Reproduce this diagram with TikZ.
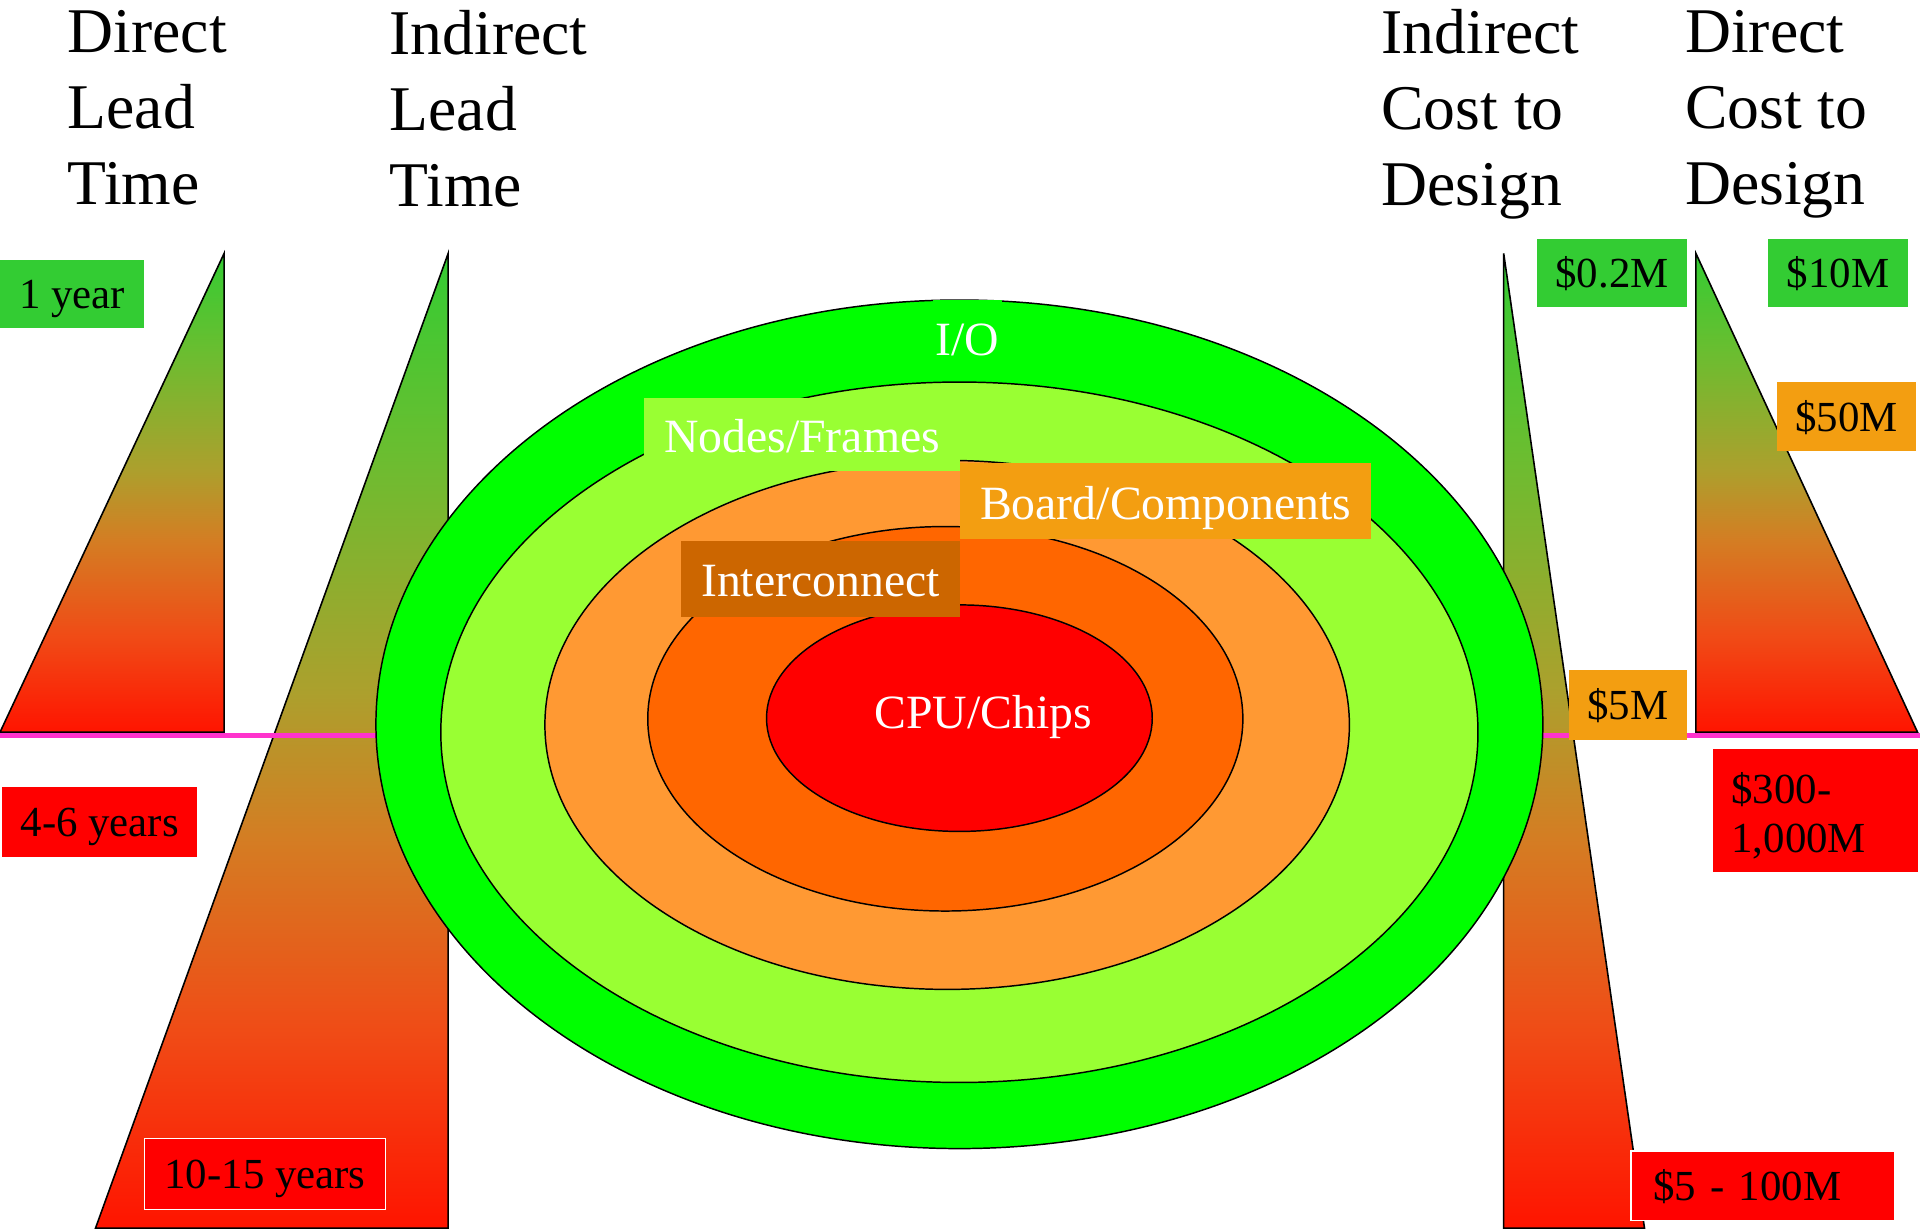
\documentclass[tikz,border=0pt]{standalone}
\usepackage{fontspec}
\setmainfont{Liberation Serif}
\definecolor{gtop}{RGB}{51,204,51}
\definecolor{g2}{RGB}{105,190,48}
\definecolor{g3}{RGB}{172,160,45}
\definecolor{g4}{RGB}{212,125,35}
\definecolor{g5}{RGB}{240,75,22}
\definecolor{gbot}{RGB}{255,20,0}
\definecolor{iocol}{RGB}{0,255,0}
\definecolor{nodecol}{RGB}{153,255,51}
\definecolor{boardcol}{RGB}{255,153,51}
\definecolor{intercol}{RGB}{255,102,0}
\definecolor{cpucol}{RGB}{255,0,0}
\definecolor{boxgreen}{RGB}{51,204,51}
\definecolor{boxorange}{RGB}{243,158,17}
\definecolor{boxbrown}{RGB}{204,102,0}
\definecolor{boxred}{RGB}{255,0,0}
\definecolor{pinkline}{RGB}{255,51,204}
\pgfdeclareverticalshading{tri}{100bp}{color(0bp)=(gbot); color(25bp)=(gbot); color(35bp)=(g5); color(45bp)=(g4); color(52.5bp)=(g3); color(65bp)=(g2); color(75bp)=(gtop); color(100bp)=(gtop)}
\begin{document}
\begin{tikzpicture}[x=1pt,y=-1pt,
  trishape/.style={draw=black, line width=1.3pt, shading=tri, line join=miter},
  ring/.style={draw=black, line width=1.2pt},
  title/.style={anchor=north west, inner sep=0pt, align=left, font=\fontsize{52}{62}\selectfont},
  valbox/.style={inner sep=0pt, text=black, font=\fontsize{35}{40}\selectfont, text height=30pt, text depth=6pt},
  inlabel/.style={inner sep=0pt, text=white, font=\fontsize{39}{45}\selectfont, text height=37pt, text depth=8.5pt}]
\useasboundingbox (0,0) rectangle (1568,1004);

% triangles
\path[trishape] (0,598) -- (183,207) -- (183,598) -- cycle;
\path[trishape] (78,1003) -- (366,207) -- (366,1003) -- cycle;
\path[trishape] (1228,207) -- (1343,1003) -- (1228,1003) -- cycle;
\path[trishape] (1385,207) -- (1566,598) -- (1385,598) -- cycle;

% pink line
\coordinate (pl) at (0,600.5);
\coordinate (pr) at (1568,600.5);
\draw[pinkline, line width=4.5pt] (pl) -- (pr);

% rings
\draw[ring, fill=iocol] (783.5,591.5) ellipse [x radius=476.5pt, y radius=346.5pt];
\draw[ring, fill=nodecol] (783.5,598) ellipse [x radius=423.5pt, y radius=286pt];
\draw[ring, fill=boardcol] (773.5,592) ellipse [x radius=328.5pt, y radius=216pt];
\draw[ring, fill=intercol] (772,587) ellipse [x radius=243pt, y radius=157pt];
\draw[ring, fill=cpucol] (783.5,586.5) ellipse [x radius=157.5pt, y radius=92.5pt];

% titles
\node[title] (t1) at (55,8.5) {Direct\\Lead\\Time};
\node[title] (t2) at (318,8) {Indirect\\Lead\\Time};
\node[title] (t3) at (1128,7.5) {Indirect\\Cost to\\Design};
\node[title] (t4) at (1376,8) {Direct\\Cost to\\Design};

% ring labels
\node[inlabel, fill=iocol, minimum width=56pt, minimum height=62pt] (io) at (790,276) {I/O};
\node[inlabel, fill=nodecol, minimum width=258pt, minimum height=60pt] (nf) at (655,355) {Nodes/Frames};
\node[inlabel, fill=boxorange, minimum width=336pt, minimum height=62pt, text height=39pt] (bc) at (952,409) {Board/Components};
\node[inlabel, fill=boxbrown, minimum width=228pt, minimum height=62pt] (ic) at (670,473) {Interconnect};
\node[inlabel, text height=32pt] (cpu) at (803,583) {CPU/Chips};

% value boxes
\node[valbox, fill=boxgreen, minimum width=118pt, minimum height=56pt] (y1) at (59,240) {1 year};
\node[valbox, fill=boxred, minimum width=159pt, minimum height=57pt] (y46) at (81.5,671.5) {4-6 years};
\node[valbox, fill=boxred, draw=white, line width=1pt, minimum width=197pt, minimum height=58pt] (y1015) at (216.5,959) {10-15 years};
\node[valbox, fill=boxgreen, minimum width=123pt, minimum height=56pt] (c02) at (1316.5,223) {\$0.2M};
\node[valbox, fill=boxgreen, minimum width=114pt, minimum height=56pt] (c10) at (1501,223) {\$10M};
\node[valbox, fill=boxorange, minimum width=114pt, minimum height=56pt] (c50) at (1508,340) {\$50M};
\node[valbox, fill=boxorange, minimum width=97pt, minimum height=57pt] (c5) at (1329.5,575.5) {\$5M};
\node[inner sep=0pt, text=black, font=\fontsize{35}{40}\selectfont, fill=boxred, text width=137pt, inner xsep=15pt, align=left, minimum height=100pt] (c300) at (1482.5,662) {\rule{0pt}{34pt}\$300-\\1,000M};
\node[valbox, fill=boxred, draw=white, line width=1pt, text width=179pt, inner xsep=18pt, align=left, minimum height=57pt] (c5100) at (1439.5,968.5) {\$5 - 100M};
\end{tikzpicture}
\end{document}
